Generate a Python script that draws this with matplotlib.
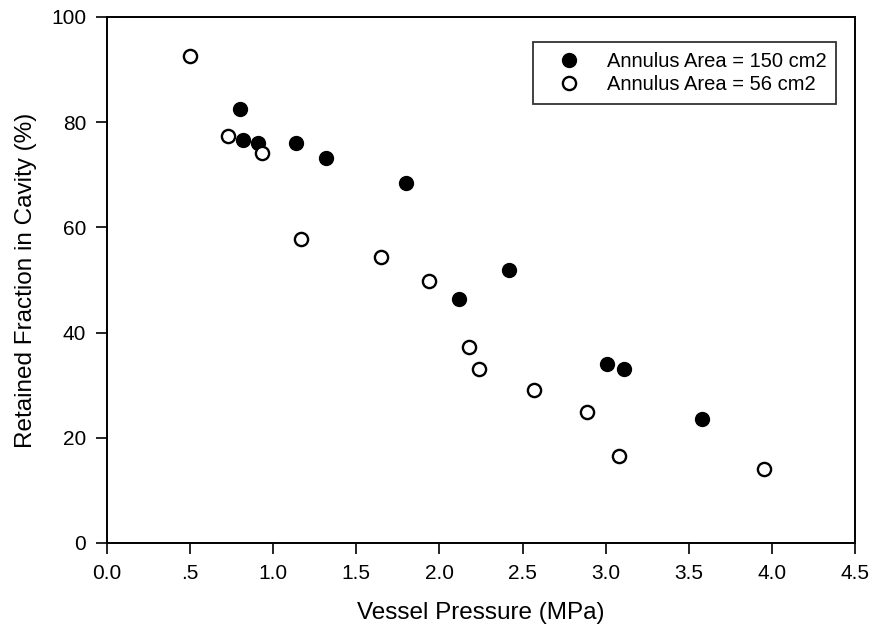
import matplotlib
matplotlib.use('Agg')
import matplotlib.pyplot as plt

plt.rcParams['font.family'] = ['Liberation Sans', 'DejaVu Sans']

# annulus area = 150 cm2 (filled)
p150 = [0.80, 0.82, 0.91, 1.14, 1.32, 1.80, 2.12, 2.42, 3.01, 3.11, 3.58]
r150 = [82.5, 76.6, 76.0, 76.0, 73.2, 68.4, 46.4, 51.9, 34.0, 33.1, 23.6]

# annulus area = 56 cm2 (open)
p56 = [0.50, 0.73, 0.93, 1.17, 1.65, 1.94, 2.18, 2.24, 2.57, 2.89, 3.08, 3.95]
r56 = [92.6, 77.4, 74.1, 57.8, 54.4, 49.8, 37.3, 33.1, 29.1, 24.9, 16.5, 14.1]

xticks = [0.0, 0.5, 1.0, 1.5, 2.0, 2.5, 3.0, 3.5, 4.0, 4.5]
xlabels = ['0.0', '.5', '1.0', '1.5', '2.0', '2.5', '3.0', '3.5', '4.0', '4.5']
yticks = [0, 20, 40, 60, 80, 100]

fig = plt.figure(figsize=(8.73, 6.34), dpi=100)
ax = fig.add_axes([107 / 873, 1 - 543 / 634, (855 - 107) / 873, (543 - 17) / 634])

ax.plot(p150, r150, 'o', color='black', ms=10, label='Annulus Area = 150 cm2')
ax.plot(p56, r56, 'o', mfc='white', mec='black', mew=1.7, ms=9.5, label='Annulus Area = 56 cm2')

ax.set_xlim(0, 4.5)
ax.set_ylim(0, 100)
ax.set_xticks(xticks)
ax.set_xticklabels(xlabels)
ax.set_yticks(yticks)
ax.tick_params(direction='out', length=8, width=1.2, labelsize=15, pad=7)
for s in ax.spines.values():
    s.set_linewidth(1.4)

ax.set_xlabel('Vessel Pressure (MPa)', fontsize=17.5, labelpad=14)
ax.set_ylabel('Retained Fraction in Cavity (%)', fontsize=17.5, labelpad=10)

leg = ax.legend(loc='upper right', bbox_to_anchor=(0.975, 0.952), fontsize=14.5,
                frameon=True, fancybox=False, edgecolor='black', borderpad=0.5,
                handlelength=2.6, handletextpad=0.55, labelspacing=0.2,
                borderaxespad=0)
leg.get_frame().set_linewidth(1.3)

fig.savefig('out.png', dpi=100)
